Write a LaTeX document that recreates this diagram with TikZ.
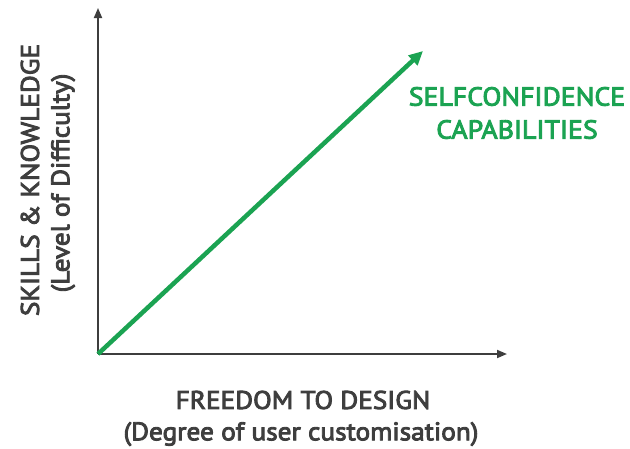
\documentclass[tikz,border=0pt]{standalone}
\usepackage{fontspec}
\setmainfont{PT Sans}[FakeStretch=1.07,FakeBold=3.5]
\usetikzlibrary{arrows.meta}
\definecolor{axisgray}{HTML}{3E3E3E}
\definecolor{sgreen}{HTML}{1BA352}
\begin{document}
\begin{tikzpicture}[x=1pt,y=-1pt,
  axis/.style={draw=axisgray,line width=1.8pt,-{Triangle[length=10pt,width=8pt]}},
  growth/.style={draw=sgreen,line width=4.5pt,-{Triangle[length=14pt,width=13pt]}},
  lbl/.style={text=axisgray,font=\fontsize{25.5}{30}\selectfont,inner sep=0pt,align=center},
  glbl/.style={text=sgreen,font=\fontsize{26}{33}\selectfont,inner sep=0pt,align=center}]
\useasboundingbox (0,0) rectangle (630,448);
\coordinate (o) at (98,354);
\coordinate (ytop) at (98,8);
\coordinate (xend) at (507,354);
\coordinate (gtip) at (423,51);
\draw[axis] (o) -- (ytop);
\draw[axis] (o) -- (xend);
\draw[growth] (o) -- (gtip);
\node[glbl] (sc) at (517,113) {SELFCONFIDENCE\\CAPABILITIES};
\node[lbl] (xl1) at (303,400) {FREEDOM TO DESIGN};
\node[lbl] (xl2) at (301,434) {(Degree of user customisation)};
\node[lbl,rotate=90] (yl1) at (30,180) {SKILLS \& KNOWLEDGE};
\node[lbl,rotate=90] (yl2) at (63,183) {(Level of Difficulty)};
\end{tikzpicture}
\end{document}
